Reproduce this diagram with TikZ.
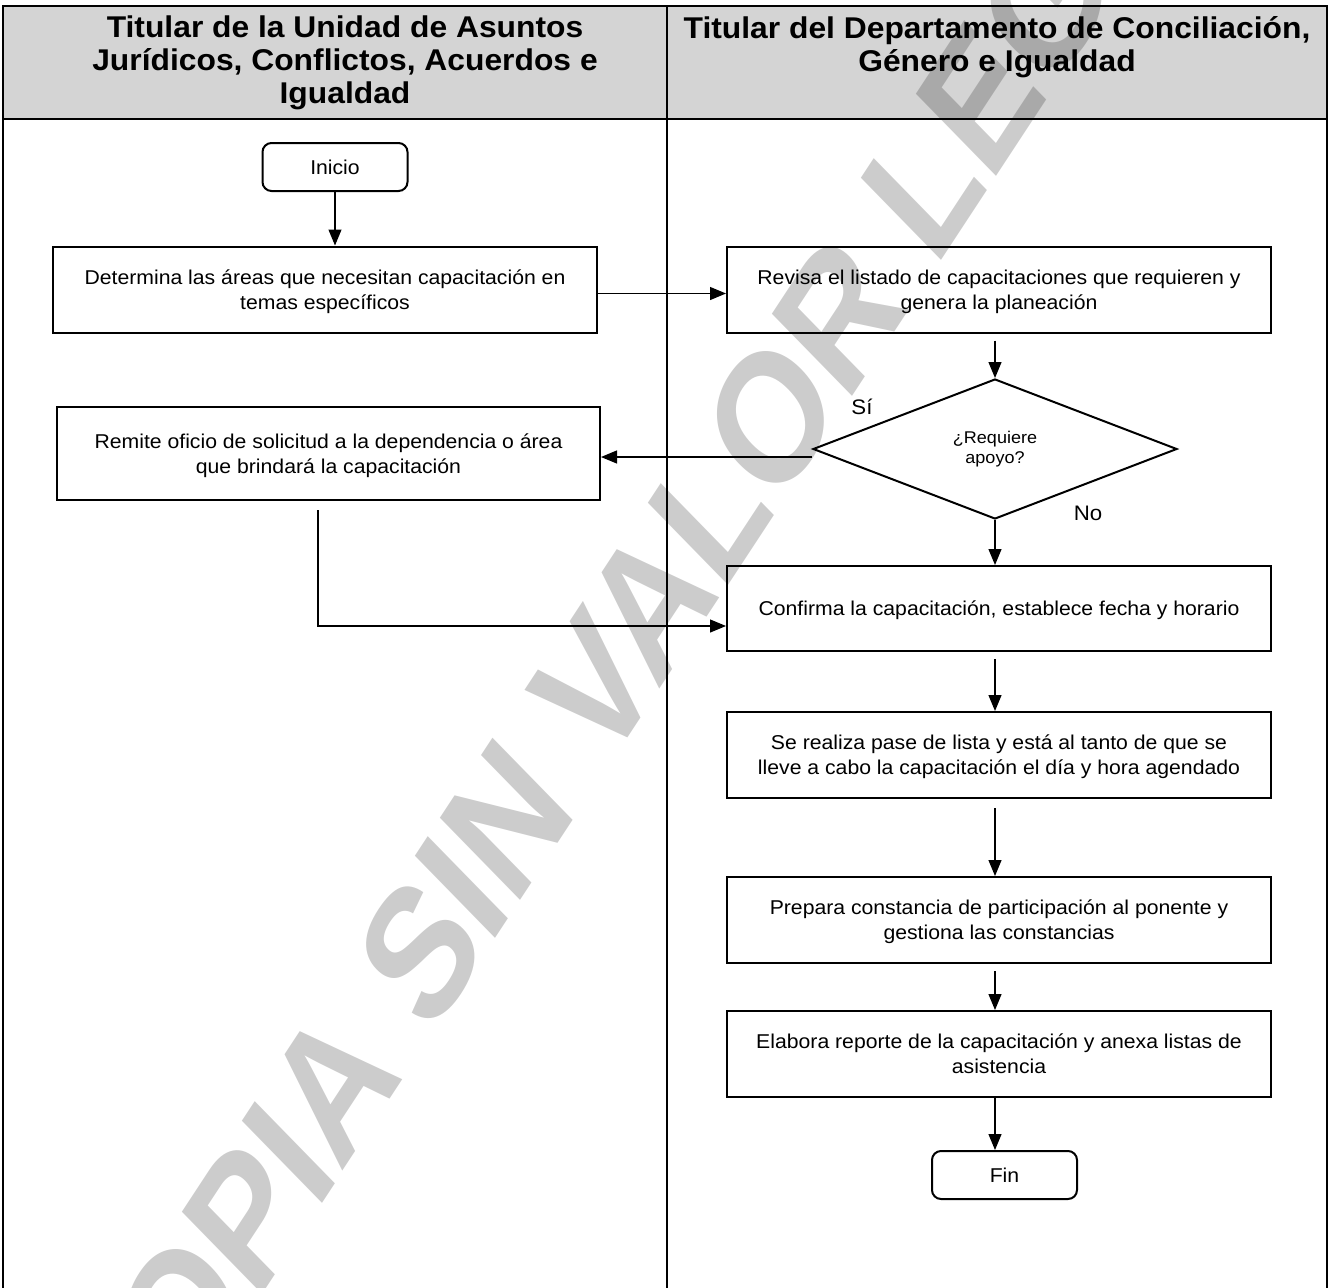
\documentclass[tikz,border=0pt]{standalone}
\usepackage{fontspec}
\setmainfont{Liberation Sans}[FakeStretch=1.06]
\newfontfamily\marcafont{Liberation Sans}
\usepackage{tikz}
\usetikzlibrary{calc,positioning,arrows.meta,shapes.geometric}

\definecolor{cabecera}{RGB}{212,212,212}
\newcommand{\letracaja}{\fontsize{20}{25}\selectfont}
\newcommand{\letratitulo}{\fontsize{30}{33}\selectfont\bfseries}
\newcommand{\letrapregunta}{\fontsize{17}{20}\selectfont}
\newcommand{\letrarotulo}{\fontsize{21}{24}\selectfont}
\newcommand{\letramarca}{\marcafont\bfseries\fontsize{163}{163}\selectfont}

\begin{document}
\begin{tikzpicture}[x=1pt, y=-1pt]
\tikzstyle{caja}=[draw, line width=2pt, minimum width=544pt, minimum height=86pt, align=center, inner sep=2pt, text depth=0pt, font=\letracaja]
\tikzstyle{extremo}=[draw, rounded corners=9pt, line width=2pt, minimum width=145pt, minimum height=48pt, font=\letracaja]
\tikzstyle{decision}=[draw, diamond, line width=2pt, minimum width=364pt, minimum height=140pt, inner sep=0pt, align=center, font=\letrapregunta]
\tikzstyle{titulo}=[align=center, inner sep=0pt, font=\letratitulo]
\tikzstyle{rotulo}=[inner sep=1pt, font=\letrarotulo]
\tikzstyle{carril}=[line width=2pt]
\tikzstyle{flecha}=[line width=1.2pt, -{Triangle[length=16pt, width=13pt]}]
\tikzstyle{marca}=[anchor=base west, inner sep=0pt, rotate=56.7, xslant=0.22, text=black, text opacity=0.2, font=\letramarca]

\useasboundingbox (0,0) rectangle (1331,1288);
\clip (0,0) rectangle (1331,1288);

% carriles
\fill[cabecera] (3,6) rectangle (1327,119);
\draw[carril] (3,1292) -- (3,6) -- (1327,6) -- (1327,1292);
\draw[carril] (3,119) -- (1327,119);
\draw[carril] (667,6) -- (667,1292);

\node[titulo] (carrilA) at (345,63) {Titular de la Unidad de Asuntos\\Jurídicos, Conflictos, Acuerdos e\\Igualdad};
\node[titulo] (carrilB) at (997,47) {Titular del Departamento de Conciliación,\\Género e Igualdad};

% nodos
\node[extremo] (inicio) at (335,167) {Inicio};
\node[caja] (determina) at (325,289.5) {Determina las áreas que necesitan capacitación en\\temas específicos};
\node[caja] (revisa) at (999,289.5) {Revisa el listado de capacitaciones que requieren y\\genera la planeación};
\node[decision] (pregunta) at (995,449) {¿Requiere\\apoyo?};
\node[caja, minimum width=543pt, minimum height=93pt] (remite) at (328.5,453.5) {Remite oficio de solicitud a la dependencia o área\\que brindará la capacitación};
\node[caja, minimum height=85pt] (confirma) at (999,608.5) {Confirma la capacitación, establece fecha y horario};
\node[caja] (pase) at (999,755) {Se realiza pase de lista y está al tanto de que se\\lleve a cabo la capacitación el día y hora agendado};
\node[caja] (prepara) at (999,920) {Prepara constancia de participación al ponente y\\gestiona las constancias};
\node[caja] (elabora) at (999,1054) {Elabora reporte de la capacitación y anexa listas de\\asistencia};
\node[extremo] (fin) at (1004.5,1175) {Fin};

\node[rotulo] (si) at (862,407) {Sí};
\node[rotulo] (no) at (1088,513) {No};

\coordinate (salida) at (318,510);
\coordinate (codo) at (318,626);

% conectores
\draw[flecha] (inicio.south) -- (inicio.south |- determina.north);
\draw[flecha] ([yshift=-4pt]determina.east) -- ([yshift=-4pt]revisa.west);
\draw[flecha, shorten <=7pt] (pregunta.north |- revisa.south) -- (pregunta.north);
\draw[flecha] ([yshift=-8pt]pregunta.west) -- ([yshift=-8pt]pregunta.west -| remite.east);
\draw[flecha] (pregunta.south) -- (pregunta.south |- confirma.north);
\draw[flecha] (salida) -- (codo) -- (codo -| confirma.west);
\draw[flecha, shorten <=7pt] (pregunta.south |- confirma.south) -- (pregunta.south |- pase.north);
\draw[flecha, shorten <=9pt] (pregunta.south |- pase.south) -- (pregunta.south |- prepara.north);
\draw[flecha, shorten <=7pt] (pregunta.south |- prepara.south) -- (pregunta.south |- elabora.north);
\draw[flecha] (pregunta.south |- elabora.south) -- (pregunta.south |- fin.north);

\node[marca] (marca) at (122,1508) {COPIA SIN VALOR LEGAL};
\end{tikzpicture}
\end{document}
